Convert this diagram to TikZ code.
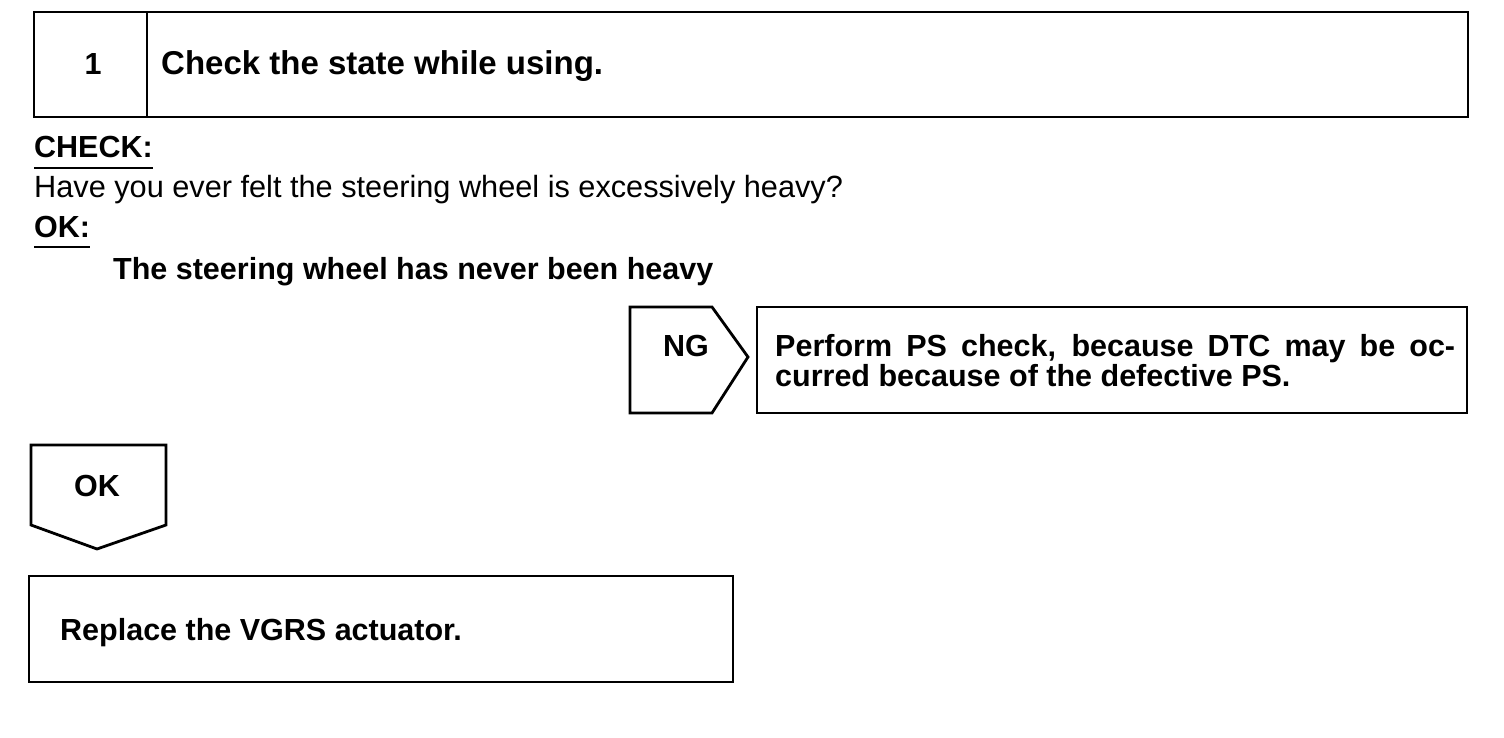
\documentclass[tikz,border=0pt]{standalone}
\usepackage{fontspec}
\setmainfont{Liberation Sans}
\tikzset{
  frame/.style={draw, line width=2.8pt, line join=miter},
  uline/.style={draw, line width=1.4pt},
  txt/.style={inner sep=0pt, anchor=base west, font=\bfseries\fontsize{30.5}{36}\selectfont},
  reg/.style={inner sep=0pt, anchor=base west, font=\fontsize{30.7}{36}\selectfont},
}
\begin{document}
\begin{tikzpicture}[x=1pt,y=-1pt]
\useasboundingbox (0,0) rectangle (1504,738);
% header box
\draw[frame] (34,12) rectangle (1468,117);
\draw[frame] (147,12) -- (147,117);
\node[txt, anchor=base] (num) at (93,75) {1};
\node[txt, font=\bfseries\fontsize{33}{38}\selectfont] (head) at (161,75) {Check the state while using.};
% check text
\node[txt] (check) at (34,158) {CHECK:};
\draw[uline] ([yshift=-10pt]check.base west) -- ([yshift=-10pt]check.base east);
\node[reg] (q) at (34,197) {Have you ever felt the steering wheel is excessively heavy?};
\node[txt] (ok) at (34,237) {OK:};
\draw[uline] ([yshift=-10pt]ok.base west) -- ([yshift=-10pt]ok.base east);
\node[txt] (okt) at (113,279) {The steering wheel has never been heavy};
% NG branch
\draw[frame] (630,307) -- (712,307) -- (748,357) -- (712,413) -- (630,413) -- cycle;
\node[txt, anchor=base] (ng) at (686,356) {NG};
\draw[frame] (757,307) rectangle (1467,413);
\node[txt] (ps1) at (775,356) {\makebox[680pt][s]{Perform PS check, because DTC may be oc-}};
\node[txt] (ps2) at (775,386) {curred because of the defective PS.};
% OK branch
\draw[frame] (31,445) -- (166,445) -- (166,525) -- (97,549) -- (31,525) -- cycle;
\node[txt, anchor=base] (okb) at (97,496) {OK};
\draw[frame] (29,576) rectangle (733,682);
\node[txt] (rep) at (60,640) {Replace the VGRS actuator.};
\end{tikzpicture}
\end{document}
